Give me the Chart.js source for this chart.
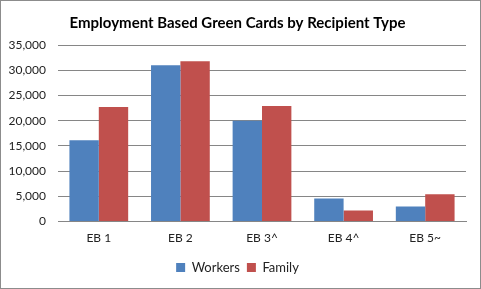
<!DOCTYPE html>
<html>
<head>
<meta charset="utf-8">
<script src="https://cdn.jsdelivr.net/npm/chart.js@4"></script>
<style>
  body { margin: 0; background: #fff; }
  #wrap { width: 479px; height: 287px; border: 1px solid #8c8c8c; position: relative; }
</style>
</head>
<body>
<div id="wrap"><canvas id="chart" width="479" height="287"></canvas></div>
<script>
const categories = ['EB 1', 'EB 2', 'EB 3^', 'EB 4^', 'EB 5~'];
const workers = [16100, 31000, 20000, 4600, 3000];
const family = [22700, 31800, 22900, 2200, 5400];
const yTicks = [0, 5000, 10000, 15000, 20000, 25000, 30000, 35000];

const fontFamily = 'Lato, "Open Sans", "Liberation Sans", sans-serif';

new Chart(document.getElementById('chart').getContext('2d'), {
  type: 'bar',
  data: {
    labels: categories,
    datasets: [
      { label: 'Workers', data: workers, backgroundColor: '#4f81bd' },
      { label: 'Family', data: family, backgroundColor: '#c0504d' },
    ],
  },
  options: {
    responsive: false,
    animation: false,
    categoryPercentage: 0.72,
    barPercentage: 1,
    layout: { padding: { left: 8, right: 14, top: 0, bottom: 4 } },
    scales: {
      x: {
        grid: { display: false, drawTicks: false },
        border: { color: '#868686' },
        ticks: { color: '#222', font: { family: fontFamily, size: 12 }, padding: 9 },
      },
      y: {
        min: 0,
        max: 35000,
        afterBuildTicks: (scale) => { scale.ticks = yTicks.map((v) => ({ value: v })); },
        afterFit: (scale) => { scale.width = 49; },
        grid: { color: '#868686', drawTicks: false },
        border: { display: false },
        ticks: {
          color: '#222',
          padding: 12,
          font: { family: fontFamily, size: 12 },
          callback: (value) => Number(value).toLocaleString('en-US'),
        },
      },
    },
    plugins: {
      title: {
        display: true,
        text: 'Employment Based Green Cards by Recipient Type',
        color: '#000',
        font: { family: fontFamily, size: 15, weight: 'bold' },
        padding: { top: 13, bottom: 13 },
      },
      legend: {
        position: 'bottom',
        labels: {
          color: '#222',
          boxWidth: 9,
          boxHeight: 9,
          padding: 7,
          font: { family: fontFamily, size: 13 },
        },
      },
      tooltip: { enabled: false },
    },
  },
});
</script>
</body>
</html>
